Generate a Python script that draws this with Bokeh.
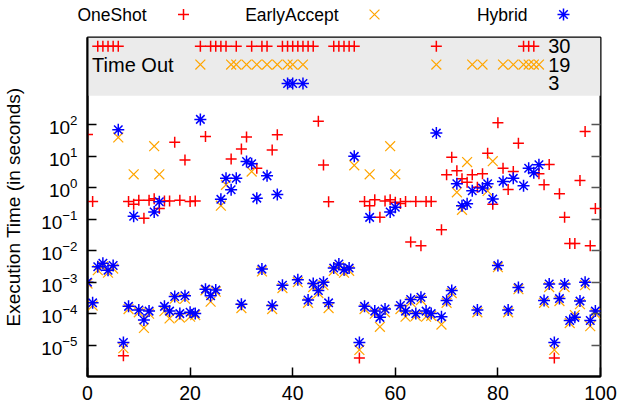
from bokeh.plotting import figure
from bokeh.layouts import column
from bokeh.models import FixedTicker, LogAxis, BoxAnnotation, Range1d, CustomJSTickFormatter
from bokeh.core.properties import value
from bokeh.embed import file_html
from bokeh.resources import INLINE

FONT = "Liberation Sans"

series_names = ["OneShot", "EarlyAccept", "Hybrid"]

oneshot_x = [0, 1, 7, 8, 9, 10, 11, 12, 13, 14, 15, 16, 17, 18, 19, 20, 21, 23, 28, 30, 31, 33, 36, 37,
             45, 46, 47, 53, 54, 55, 56, 57, 58, 59, 60, 61, 62, 63, 64, 65, 66, 67,
             69, 70, 71, 72, 73, 74, 75, 76, 77, 78, 79, 80, 81, 82, 83, 84,
             88, 89, 90, 91, 92, 93, 94, 95, 96, 97, 98, 99]
oneshot_y = [50, 0.37, 4.6e-6, 0.37, 0.30, 0.40, 0.107, 0.40, 0.45, 0.22, 0.38, 0.38, 28, 0.40, 7.7, 0.37, 0.38,
             43, 8.3, 17, 41, 4.2, 16, 49,
             130, 5.3, 0.36, 3.9e-6, 0.37, 0.27, 0.42, 0.115, 0.38, 0.42, 0.35, 0.32, 0.37, 0.019, 0.37, 0.0145, 0.37, 0.37,
             0.046, 2.6, 9.4, 3.5, 1.95, 1.5, 2.6, 1.05, 2.8, 12.6, 0.30, 117, 4.2, 0.89, 3.3, 26,
             2.8, 1.25, 5.5, 3.9e-6, 0.65, 0.115, 0.017, 0.017, 1.7, 62, 0.0145, 0.22]

early_x = [0, 1, 2, 3, 4, 5, 6, 7, 8, 9, 10, 11, 12, 13, 14, 15, 16, 17, 18, 19, 20, 21,
           23, 24, 25, 26, 27, 30, 32, 34, 36, 38, 41,
           43, 44, 45, 46, 47, 48, 49, 50, 51, 52, 53, 54, 55, 56, 57, 58, 59, 60, 61, 62, 63, 64, 65, 66, 67,
           69, 70, 71, 72, 73, 74, 76, 78, 79, 80, 82, 84,
           89, 90, 91, 92, 93, 94, 95, 96, 97, 98, 99]
early_y = [9e-4, 1.8e-4, 2.4e-3, 3.2e-3, 2.0e-3, 2.7e-3, 40, 8e-6, 1.4e-4, 2.7, 1.1e-4, 3.5e-5, 1.0e-4, 21, 2.7,
           1.2e-4, 7e-5, 3e-4, 7.5e-5, 3e-4, 8e-5, 9e-5,
           5.5e-4, 2.4e-4, 5.0e-4, 0.27, 1.25, 1.5e-4, 3.3, 2.2e-3, 1.4e-4, 6.5e-4, 1.0e-3,
           2.2e-4, 7e-4, 4.5e-4, 8e-4, 1.5e-4, 2.3e-3, 3.0e-3, 2.0e-3, 2.3e-3, 5.2, 7e-6, 1.4e-4, 2.7, 1.0e-4,
           3.8e-5, 1.1e-4, 21, 2.7, 1.4e-4, 8e-5, 2.3e-4, 8.5e-5, 2.7e-4, 8e-5, 8.5e-5,
           4.5e-5, 2.2e-4, 4.5e-4, 0.72, 0.2, 6.6, 1.1e-4, 0.8, 7.0, 3.0e-3, 1.1e-4, 6e-4,
           2.2e-4, 7e-4, 7e-6, 2.5e-4, 7e-4, 5e-5, 9e-5, 2e-4, 8e-4, 4e-5, 1e-4]

hybrid_x = list(range(0, 39)) + [41] + list(range(43, 100))
hybrid_y = [1.0e-3, 2.2e-4, 3.1e-3, 4.0e-3, 2.4e-3, 3.4e-3, 70, 1.2e-5, 1.7e-4, 0.125,
            1.3e-4, 6.3e-5, 1.2e-4, 0.17, 0.36, 1.7e-4, 1.2e-4, 3.5e-4, 1.0e-4, 3.7e-4,
            1.1e-4, 1.0e-4, 150, 6.0e-4, 3.7e-4, 5.6e-4, 0.43, 2.0, 0.87, 2.0,
            2.0e-4, 6.9, 5.8, 0.47, 2.6e-3, 2.4, 1.8e-4, 0.61, 8.0e-4,
            1.2e-3,
            2.7e-4, 9.0e-4, 5.4e-4, 1.0e-3, 2.2e-4, 2.8e-3, 3.8e-3, 2.5e-3, 2.8e-3,
            10, 1.2e-5, 1.7e-4, 0.115, 1.2e-4, 7.6e-5, 1.4e-4, 0.17, 0.24,
            1.8e-4, 1.2e-4, 2.8e-4, 1.0e-4, 3.3e-4, 1.2e-4, 1.0e-4, 55, 8.0e-5,
            2.6e-4, 5.4e-4, 1.35, 0.27, 0.31, 0.81, 1.3e-4, 0.98, 1.35, 0.44,
            3.4e-3, 1.6, 1.3e-4, 2.0, 6.8e-4, 1.17, 4.2, 3.0, 5.4, 2.6e-4,
            8.7e-4, 1.2e-5, 3.0e-4, 8.7e-4, 6.0e-5, 7.6e-5, 2.5e-4, 1.0e-3, 6.0e-5, 1.2e-4]

oneshot_timeout = [2, 3, 4, 5, 6, 22, 24, 25, 26, 27, 29, 32, 34, 35, 38, 39, 40, 41, 42, 43, 44,
                   48, 49, 50, 51, 52, 68, 85, 86, 87]
early_timeout = [22, 28, 29, 31, 33, 35, 37, 39, 40, 42, 68, 75, 77, 81, 83, 85, 86, 87, 88]
hybrid_timeout = [39, 40, 42]

x_ticks = [0, 20, 40, 60, 80, 100]
y_ticks = [1e-5, 1e-4, 1e-3, 1e-2, 1e-1, 1e0, 1e1, 1e2]

# styles / layout
colors = ["#ff0000", "#ffa500", "#0000ff"]
markers = ["cross", "x", "asterisk"]
sizes = [11, 14, 12]
widths = [1.5, 1.2, 1.5]
ROWS = [10 ** 4.5, 10 ** 3.92, 10 ** 3.32]
BAND_BOTTOM = 10 ** 2.93
Y_TOP = 10 ** 4.78

LEG_H = 35
MAIN_H = 377
W = 620

leg = figure(width=W, height=LEG_H, x_range=Range1d(0, W), y_range=Range1d(0, LEG_H),
             toolbar_location=None, output_backend="svg",
             min_border_left=0, min_border_right=0, min_border_top=0, min_border_bottom=0)
leg.xaxis.visible = False
leg.yaxis.visible = False
leg.grid.visible = False
leg.outline_line_color = None
leg_text_x = [146, 338, 527]
leg_mark_x = [183, 374, 563]
for i in range(3):
    leg.text(x=[leg_text_x[i]], y=[LEG_H - 14], text=[series_names[i]], text_align="right",
             text_baseline="middle", text_font=value(FONT), text_font_size="17.5px", text_color="black")
    leg.scatter(x=[leg_mark_x[i]], y=[LEG_H - 14], marker=markers[i], size=sizes[i],
                line_color=colors[i], line_width=widths[i])

p = figure(width=W, height=MAIN_H, y_axis_type="log",
           x_range=Range1d(0, 100), y_range=Range1d(1e-6, Y_TOP),
           toolbar_location=None, output_backend="svg",
           min_border_left=87, min_border_right=20, min_border_top=2, min_border_bottom=36)
for fig in (leg, p):
    try:
        fig.frame_align = False
    except AttributeError:
        pass
p.grid.visible = False
p.outline_line_color = "black"
p.outline_line_width = 2
p.outline_line_alpha = 1

p.add_layout(BoxAnnotation(bottom=BAND_BOTTOM, fill_color="#ebebeb", fill_alpha=1,
                           line_color=None, level="underlay"))

data = [(oneshot_x, oneshot_y, oneshot_timeout),
        (early_x, early_y, early_timeout),
        (hybrid_x, hybrid_y, hybrid_timeout)]
for i, (xs, ys, to) in enumerate(data):
    p.scatter(x=xs, y=ys, marker=markers[i], size=sizes[i], line_color=colors[i], line_width=widths[i])
    p.scatter(x=to, y=[ROWS[i]] * len(to), marker=markers[i], size=sizes[i],
              line_color=colors[i], line_width=widths[i])

p.text(x=[89.8] * 3, y=ROWS, text=[str(len(d[2])) for d in data], text_align="left",
       text_baseline="middle", text_font=value(FONT), text_font_size="20px", text_color="black")
p.text(x=[0.9], y=[ROWS[1]], text=["Time Out"], text_align="left", text_baseline="middle",
       text_font=value(FONT), text_font_size="20px", text_color="black")

xa = p.xaxis[0]
xa.ticker = FixedTicker(ticks=x_ticks)
xa.major_tick_in = 9
xa.major_tick_out = 0
xa.minor_tick_line_color = None
xa.axis_line_width = 2
xa.major_tick_line_width = 1.5
xa.major_label_standoff = 9
xa.major_label_text_font = FONT
xa.major_label_text_font_size = "19.5px"
xa.major_label_text_color = "black"

ya = p.yaxis[0]
ya.ticker = FixedTicker(ticks=y_ticks)
ya.major_tick_in = 9
ya.major_tick_out = 0
ya.minor_tick_line_color = None
ya.axis_line_width = 2
ya.major_tick_line_width = 1.5
ya.major_label_standoff = 10
ya.major_label_text_font = FONT
ya.major_label_text_font_size = "19px"
ya.major_label_text_color = "black"
ya.axis_label = "Execution Time (in seconds)"
ya.axis_label_text_font = FONT
ya.axis_label_text_font_size = "19px"
ya.axis_label_text_font_style = "normal"
ya.axis_label_text_color = "black"
ya.axis_label_standoff = 14

ra = LogAxis(ticker=FixedTicker(ticks=y_ticks), major_tick_in=9, major_tick_out=0,
             minor_tick_line_color=None, axis_line_color=None,
             formatter=CustomJSTickFormatter(code="return ' ';"),
             major_label_text_font_size="2px", major_label_text_alpha=0,
             major_label_standoff=0, major_tick_line_color="#555555", major_tick_line_width=1.5)
p.add_layout(ra, "right")

layout = column(leg, p, spacing=0)
open("out.html", "w").write(file_html(layout, INLINE))
